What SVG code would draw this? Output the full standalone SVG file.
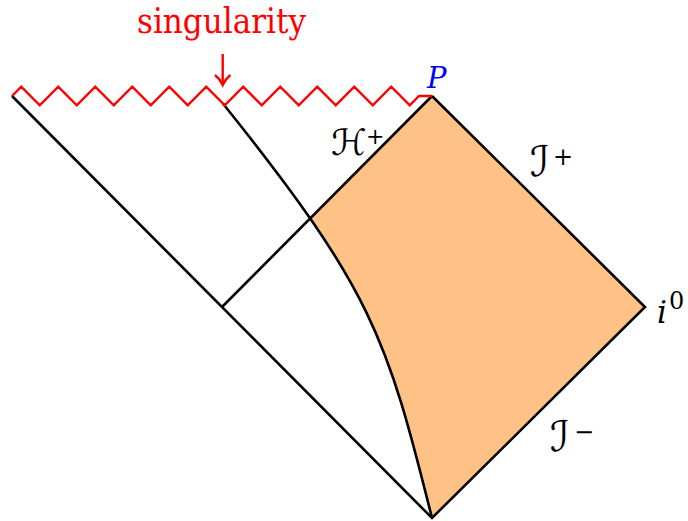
<svg xmlns="http://www.w3.org/2000/svg" width="688" height="521" viewBox="0 0 688 521">
<style>
.ln{fill:none;stroke:#000;stroke-width:2.6;stroke-linejoin:miter}
.red{fill:none;stroke:#FF0000;stroke-width:2.4;stroke-linejoin:miter}
.m{font-family:"DejaVu Serif","Liberation Serif",serif;font-style:italic;fill:#000}
.s{font-family:"DejaVu Sans","DejaVu Serif",serif;fill:#000}
.sup{font-family:"DejaVu Serif","Liberation Serif",serif;fill:#000}
.lab{font-family:"DejaVu Serif","Liberation Serif",serif;fill:#FF0000}
</style>
<defs>
<clipPath id="sq"><polygon points="432,96 645,307 432,518 222,307"/></clipPath>
</defs>
<g id="region">
<path d="M432,96 L645,307 L432,518 C387,338 373,290.5 222.7,103.2 Z" fill="#FEC186" clip-path="url(#sq)"/>
</g>
<g id="connectors">
<path class="ln" d="M12,96 L432,518 L645,307 L432,96"/>
<path class="ln" d="M222,307 L432,96"/>
<path class="ln" d="M222.7,103.2 C373,290.5 387,338 432,518"/>
</g>
<g id="singularity">
<path class="red" d="M12,96 L21.25,86.75 L39.75,105.25 L58.25,86.75 L76.75,105.25 L95.25,86.75 L113.75,105.25 L132.25,86.75 L150.75,105.25 L169.25,86.75 L187.75,105.25 L206.25,86.75 L224.75,105.25 L243.25,86.75 L261.75,105.25 L280.25,86.75 L298.75,105.25 L317.25,86.75 L335.75,105.25 L354.25,86.75 L372.75,105.25 L391.25,86.75 L409.75,105.25 L419,96 L432,96"/>
<path class="red" d="M222.7,54 L222.7,84"/>
<path class="red" d="M215,75 Q220,79 222.7,85 Q225.4,79 230.4,75"/>
<text class="lab" x="137" y="33" font-size="36" textLength="169" lengthAdjust="spacingAndGlyphs">singularity</text>
</g>
<g id="labels">
<text class="m" x="427" y="88" font-size="29" style="fill:#0000FF">P</text>
<text class="s" x="331" y="155" font-size="36">ℋ</text>
<text class="sup" x="366" y="144" font-size="22">+</text>
<text class="s" x="530" y="176" font-size="42">ℐ</text>
<text class="sup" x="553" y="165" font-size="24">+</text>
<text class="m" x="657" y="323" font-size="31">i</text>
<text class="sup" x="669" y="309" font-size="24">0</text>
<text class="s" x="550" y="451" font-size="42">ℐ</text>
<text class="sup" x="574" y="440" font-size="24">−</text>
</g>
</svg>
